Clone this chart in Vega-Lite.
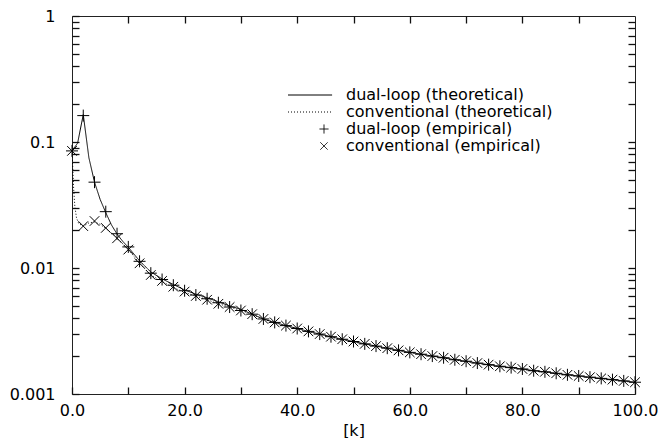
{
  "$schema": "https://vega.github.io/schema/vega-lite/v6.json",
  "width": 563,
  "height": 378,
  "autosize": {"type": "none"},
  "padding": {"left": 72, "top": 16, "right": 27, "bottom": 44},
  "background": "white",
  "config": {
    "font": "DejaVu Sans",
    "view": {"stroke": "#222222", "strokeWidth": 1},
    "axis": {
      "grid": false,
      "domain": false,
      "ticks": true,
      "tickColor": "#111111",
      "tickSize": 7,
      "offset": -7,
      "tickWidth": 1.3,
      "labelColor": "black",
      "labelFont": "DejaVu Sans",
      "labelFontSize": 16,
      "titleFont": "DejaVu Sans",
      "titleFontSize": 16,
      "titleFontWeight": "normal",
      "titleColor": "black",
      "labelOverlap": false,
      "labelFlush": false
    }
  },
  "datasets": {
    "theory": [
      {"k": 0, "v": 0.085, "s": "dual-loop (theoretical)"},
      {"k": 1, "v": 0.098, "s": "dual-loop (theoretical)"},
      {"k": 2, "v": 0.165, "s": "dual-loop (theoretical)"},
      {"k": 3, "v": 0.075, "s": "dual-loop (theoretical)"},
      {"k": 4, "v": 0.048, "s": "dual-loop (theoretical)"},
      {"k": 5, "v": 0.035, "s": "dual-loop (theoretical)"},
      {"k": 6, "v": 0.0275, "s": "dual-loop (theoretical)"},
      {"k": 7, "v": 0.022, "s": "dual-loop (theoretical)"},
      {"k": 8, "v": 0.0186, "s": "dual-loop (theoretical)"},
      {"k": 9, "v": 0.0163, "s": "dual-loop (theoretical)"},
      {"k": 10, "v": 0.0146, "s": "dual-loop (theoretical)"},
      {"k": 12, "v": 0.0114, "s": "dual-loop (theoretical)"},
      {"k": 14, "v": 0.0093, "s": "dual-loop (theoretical)"},
      {"k": 16, "v": 0.0082, "s": "dual-loop (theoretical)"},
      {"k": 18, "v": 0.0074, "s": "dual-loop (theoretical)"},
      {"k": 20, "v": 0.0067, "s": "dual-loop (theoretical)"},
      {"k": 22, "v": 0.0062, "s": "dual-loop (theoretical)"},
      {"k": 24, "v": 0.0058, "s": "dual-loop (theoretical)"},
      {"k": 26, "v": 0.0054, "s": "dual-loop (theoretical)"},
      {"k": 28, "v": 0.005, "s": "dual-loop (theoretical)"},
      {"k": 30, "v": 0.0047, "s": "dual-loop (theoretical)"},
      {"k": 32, "v": 0.0043, "s": "dual-loop (theoretical)"},
      {"k": 34, "v": 0.00394, "s": "dual-loop (theoretical)"},
      {"k": 36, "v": 0.0037, "s": "dual-loop (theoretical)"},
      {"k": 38, "v": 0.00349, "s": "dual-loop (theoretical)"},
      {"k": 40, "v": 0.00331, "s": "dual-loop (theoretical)"},
      {"k": 42, "v": 0.00314, "s": "dual-loop (theoretical)"},
      {"k": 44, "v": 0.00299, "s": "dual-loop (theoretical)"},
      {"k": 46, "v": 0.00285, "s": "dual-loop (theoretical)"},
      {"k": 48, "v": 0.00272, "s": "dual-loop (theoretical)"},
      {"k": 50, "v": 0.00261, "s": "dual-loop (theoretical)"},
      {"k": 52, "v": 0.0025, "s": "dual-loop (theoretical)"},
      {"k": 54, "v": 0.0024, "s": "dual-loop (theoretical)"},
      {"k": 56, "v": 0.00231, "s": "dual-loop (theoretical)"},
      {"k": 58, "v": 0.00222, "s": "dual-loop (theoretical)"},
      {"k": 60, "v": 0.00214, "s": "dual-loop (theoretical)"},
      {"k": 62, "v": 0.00207, "s": "dual-loop (theoretical)"},
      {"k": 64, "v": 0.002, "s": "dual-loop (theoretical)"},
      {"k": 66, "v": 0.00194, "s": "dual-loop (theoretical)"},
      {"k": 68, "v": 0.00187, "s": "dual-loop (theoretical)"},
      {"k": 70, "v": 0.00182, "s": "dual-loop (theoretical)"},
      {"k": 72, "v": 0.00176, "s": "dual-loop (theoretical)"},
      {"k": 74, "v": 0.00171, "s": "dual-loop (theoretical)"},
      {"k": 76, "v": 0.00166, "s": "dual-loop (theoretical)"},
      {"k": 78, "v": 0.00162, "s": "dual-loop (theoretical)"},
      {"k": 80, "v": 0.00158, "s": "dual-loop (theoretical)"},
      {"k": 82, "v": 0.00153, "s": "dual-loop (theoretical)"},
      {"k": 84, "v": 0.0015, "s": "dual-loop (theoretical)"},
      {"k": 86, "v": 0.00146, "s": "dual-loop (theoretical)"},
      {"k": 88, "v": 0.00142, "s": "dual-loop (theoretical)"},
      {"k": 90, "v": 0.00139, "s": "dual-loop (theoretical)"},
      {"k": 92, "v": 0.00136, "s": "dual-loop (theoretical)"},
      {"k": 94, "v": 0.00133, "s": "dual-loop (theoretical)"},
      {"k": 96, "v": 0.0013, "s": "dual-loop (theoretical)"},
      {"k": 98, "v": 0.00127, "s": "dual-loop (theoretical)"},
      {"k": 100, "v": 0.00124, "s": "dual-loop (theoretical)"},
      {"k": 0, "v": 0.085, "s": "conventional (theoretical)"},
      {"k": 0.15, "v": 0.06, "s": "conventional (theoretical)"},
      {"k": 0.3, "v": 0.042, "s": "conventional (theoretical)"},
      {"k": 0.5, "v": 0.031, "s": "conventional (theoretical)"},
      {"k": 0.8, "v": 0.025, "s": "conventional (theoretical)"},
      {"k": 1.2, "v": 0.0225, "s": "conventional (theoretical)"},
      {"k": 2, "v": 0.0215, "s": "conventional (theoretical)"},
      {"k": 3, "v": 0.0228, "s": "conventional (theoretical)"},
      {"k": 4, "v": 0.0232, "s": "conventional (theoretical)"},
      {"k": 5, "v": 0.0222, "s": "conventional (theoretical)"},
      {"k": 6, "v": 0.0206, "s": "conventional (theoretical)"},
      {"k": 7, "v": 0.0189, "s": "conventional (theoretical)"},
      {"k": 8, "v": 0.0172, "s": "conventional (theoretical)"},
      {"k": 9, "v": 0.0156, "s": "conventional (theoretical)"},
      {"k": 10, "v": 0.0141, "s": "conventional (theoretical)"},
      {"k": 12, "v": 0.0109, "s": "conventional (theoretical)"},
      {"k": 14, "v": 0.0088, "s": "conventional (theoretical)"},
      {"k": 16, "v": 0.0078, "s": "conventional (theoretical)"},
      {"k": 18, "v": 0.007, "s": "conventional (theoretical)"},
      {"k": 20, "v": 0.0064, "s": "conventional (theoretical)"},
      {"k": 22, "v": 0.006, "s": "conventional (theoretical)"},
      {"k": 24, "v": 0.0056, "s": "conventional (theoretical)"},
      {"k": 26, "v": 0.0052, "s": "conventional (theoretical)"},
      {"k": 28, "v": 0.0049, "s": "conventional (theoretical)"},
      {"k": 30, "v": 0.0046, "s": "conventional (theoretical)"},
      {"k": 32, "v": 0.0043, "s": "conventional (theoretical)"},
      {"k": 34, "v": 0.00392, "s": "conventional (theoretical)"},
      {"k": 36, "v": 0.00368, "s": "conventional (theoretical)"},
      {"k": 38, "v": 0.00347, "s": "conventional (theoretical)"},
      {"k": 40, "v": 0.00329, "s": "conventional (theoretical)"},
      {"k": 42, "v": 0.00312, "s": "conventional (theoretical)"},
      {"k": 44, "v": 0.00297, "s": "conventional (theoretical)"},
      {"k": 46, "v": 0.00283, "s": "conventional (theoretical)"},
      {"k": 48, "v": 0.0027, "s": "conventional (theoretical)"},
      {"k": 50, "v": 0.00259, "s": "conventional (theoretical)"},
      {"k": 52, "v": 0.00248, "s": "conventional (theoretical)"},
      {"k": 54, "v": 0.00239, "s": "conventional (theoretical)"},
      {"k": 56, "v": 0.0023, "s": "conventional (theoretical)"},
      {"k": 58, "v": 0.00221, "s": "conventional (theoretical)"},
      {"k": 60, "v": 0.00213, "s": "conventional (theoretical)"},
      {"k": 62, "v": 0.00206, "s": "conventional (theoretical)"},
      {"k": 64, "v": 0.00199, "s": "conventional (theoretical)"},
      {"k": 66, "v": 0.00193, "s": "conventional (theoretical)"},
      {"k": 68, "v": 0.00186, "s": "conventional (theoretical)"},
      {"k": 70, "v": 0.00181, "s": "conventional (theoretical)"},
      {"k": 72, "v": 0.00175, "s": "conventional (theoretical)"},
      {"k": 74, "v": 0.0017, "s": "conventional (theoretical)"},
      {"k": 76, "v": 0.00165, "s": "conventional (theoretical)"},
      {"k": 78, "v": 0.00161, "s": "conventional (theoretical)"},
      {"k": 80, "v": 0.00157, "s": "conventional (theoretical)"},
      {"k": 82, "v": 0.00152, "s": "conventional (theoretical)"},
      {"k": 84, "v": 0.00149, "s": "conventional (theoretical)"},
      {"k": 86, "v": 0.00145, "s": "conventional (theoretical)"},
      {"k": 88, "v": 0.00141, "s": "conventional (theoretical)"},
      {"k": 90, "v": 0.00138, "s": "conventional (theoretical)"},
      {"k": 92, "v": 0.00135, "s": "conventional (theoretical)"},
      {"k": 94, "v": 0.00132, "s": "conventional (theoretical)"},
      {"k": 96, "v": 0.00129, "s": "conventional (theoretical)"},
      {"k": 98, "v": 0.00126, "s": "conventional (theoretical)"},
      {"k": 100, "v": 0.00123, "s": "conventional (theoretical)"}
    ],
    "emp": [
      {"k": 0, "v": 0.085, "s": "dual-loop (empirical)"},
      {"k": 2, "v": 0.162, "s": "dual-loop (empirical)"},
      {"k": 4, "v": 0.048, "s": "dual-loop (empirical)"},
      {"k": 6, "v": 0.028, "s": "dual-loop (empirical)"},
      {"k": 8, "v": 0.0187, "s": "dual-loop (empirical)"},
      {"k": 10, "v": 0.0147, "s": "dual-loop (empirical)"},
      {"k": 12, "v": 0.0113, "s": "dual-loop (empirical)"},
      {"k": 14, "v": 0.0091, "s": "dual-loop (empirical)"},
      {"k": 16, "v": 0.0081, "s": "dual-loop (empirical)"},
      {"k": 18, "v": 0.0073, "s": "dual-loop (empirical)"},
      {"k": 20, "v": 0.0066, "s": "dual-loop (empirical)"},
      {"k": 22, "v": 0.0061, "s": "dual-loop (empirical)"},
      {"k": 24, "v": 0.0057, "s": "dual-loop (empirical)"},
      {"k": 26, "v": 0.0053, "s": "dual-loop (empirical)"},
      {"k": 28, "v": 0.0049, "s": "dual-loop (empirical)"},
      {"k": 30, "v": 0.0046, "s": "dual-loop (empirical)"},
      {"k": 32, "v": 0.0043, "s": "dual-loop (empirical)"},
      {"k": 34, "v": 0.00394, "s": "dual-loop (empirical)"},
      {"k": 36, "v": 0.0037, "s": "dual-loop (empirical)"},
      {"k": 38, "v": 0.00349, "s": "dual-loop (empirical)"},
      {"k": 40, "v": 0.00331, "s": "dual-loop (empirical)"},
      {"k": 42, "v": 0.00314, "s": "dual-loop (empirical)"},
      {"k": 44, "v": 0.00299, "s": "dual-loop (empirical)"},
      {"k": 46, "v": 0.00285, "s": "dual-loop (empirical)"},
      {"k": 48, "v": 0.00272, "s": "dual-loop (empirical)"},
      {"k": 50, "v": 0.00261, "s": "dual-loop (empirical)"},
      {"k": 52, "v": 0.0025, "s": "dual-loop (empirical)"},
      {"k": 54, "v": 0.0024, "s": "dual-loop (empirical)"},
      {"k": 56, "v": 0.00231, "s": "dual-loop (empirical)"},
      {"k": 58, "v": 0.00222, "s": "dual-loop (empirical)"},
      {"k": 60, "v": 0.00214, "s": "dual-loop (empirical)"},
      {"k": 62, "v": 0.00207, "s": "dual-loop (empirical)"},
      {"k": 64, "v": 0.002, "s": "dual-loop (empirical)"},
      {"k": 66, "v": 0.00194, "s": "dual-loop (empirical)"},
      {"k": 68, "v": 0.00187, "s": "dual-loop (empirical)"},
      {"k": 70, "v": 0.00182, "s": "dual-loop (empirical)"},
      {"k": 72, "v": 0.00176, "s": "dual-loop (empirical)"},
      {"k": 74, "v": 0.00171, "s": "dual-loop (empirical)"},
      {"k": 76, "v": 0.00166, "s": "dual-loop (empirical)"},
      {"k": 78, "v": 0.00162, "s": "dual-loop (empirical)"},
      {"k": 80, "v": 0.00158, "s": "dual-loop (empirical)"},
      {"k": 82, "v": 0.00153, "s": "dual-loop (empirical)"},
      {"k": 84, "v": 0.0015, "s": "dual-loop (empirical)"},
      {"k": 86, "v": 0.00146, "s": "dual-loop (empirical)"},
      {"k": 88, "v": 0.00142, "s": "dual-loop (empirical)"},
      {"k": 90, "v": 0.00139, "s": "dual-loop (empirical)"},
      {"k": 92, "v": 0.00136, "s": "dual-loop (empirical)"},
      {"k": 94, "v": 0.00133, "s": "dual-loop (empirical)"},
      {"k": 96, "v": 0.0013, "s": "dual-loop (empirical)"},
      {"k": 98, "v": 0.00127, "s": "dual-loop (empirical)"},
      {"k": 100, "v": 0.00124, "s": "dual-loop (empirical)"},
      {"k": 0, "v": 0.085, "s": "conventional (empirical)"},
      {"k": 2, "v": 0.0215, "s": "conventional (empirical)"},
      {"k": 4, "v": 0.0236, "s": "conventional (empirical)"},
      {"k": 6, "v": 0.0208, "s": "conventional (empirical)"},
      {"k": 8, "v": 0.0172, "s": "conventional (empirical)"},
      {"k": 10, "v": 0.014, "s": "conventional (empirical)"},
      {"k": 12, "v": 0.0109, "s": "conventional (empirical)"},
      {"k": 14, "v": 0.0088, "s": "conventional (empirical)"},
      {"k": 16, "v": 0.0079, "s": "conventional (empirical)"},
      {"k": 18, "v": 0.0071, "s": "conventional (empirical)"},
      {"k": 20, "v": 0.0065, "s": "conventional (empirical)"},
      {"k": 22, "v": 0.006, "s": "conventional (empirical)"},
      {"k": 24, "v": 0.0056, "s": "conventional (empirical)"},
      {"k": 26, "v": 0.0052, "s": "conventional (empirical)"},
      {"k": 28, "v": 0.0049, "s": "conventional (empirical)"},
      {"k": 30, "v": 0.0046, "s": "conventional (empirical)"},
      {"k": 32, "v": 0.0043, "s": "conventional (empirical)"},
      {"k": 34, "v": 0.00394, "s": "conventional (empirical)"},
      {"k": 36, "v": 0.0037, "s": "conventional (empirical)"},
      {"k": 38, "v": 0.00349, "s": "conventional (empirical)"},
      {"k": 40, "v": 0.00331, "s": "conventional (empirical)"},
      {"k": 42, "v": 0.00314, "s": "conventional (empirical)"},
      {"k": 44, "v": 0.00299, "s": "conventional (empirical)"},
      {"k": 46, "v": 0.00285, "s": "conventional (empirical)"},
      {"k": 48, "v": 0.00272, "s": "conventional (empirical)"},
      {"k": 50, "v": 0.00261, "s": "conventional (empirical)"},
      {"k": 52, "v": 0.0025, "s": "conventional (empirical)"},
      {"k": 54, "v": 0.0024, "s": "conventional (empirical)"},
      {"k": 56, "v": 0.00231, "s": "conventional (empirical)"},
      {"k": 58, "v": 0.00222, "s": "conventional (empirical)"},
      {"k": 60, "v": 0.00214, "s": "conventional (empirical)"},
      {"k": 62, "v": 0.00207, "s": "conventional (empirical)"},
      {"k": 64, "v": 0.002, "s": "conventional (empirical)"},
      {"k": 66, "v": 0.00194, "s": "conventional (empirical)"},
      {"k": 68, "v": 0.00187, "s": "conventional (empirical)"},
      {"k": 70, "v": 0.00182, "s": "conventional (empirical)"},
      {"k": 72, "v": 0.00176, "s": "conventional (empirical)"},
      {"k": 74, "v": 0.00171, "s": "conventional (empirical)"},
      {"k": 76, "v": 0.00166, "s": "conventional (empirical)"},
      {"k": 78, "v": 0.00162, "s": "conventional (empirical)"},
      {"k": 80, "v": 0.00158, "s": "conventional (empirical)"},
      {"k": 82, "v": 0.00153, "s": "conventional (empirical)"},
      {"k": 84, "v": 0.0015, "s": "conventional (empirical)"},
      {"k": 86, "v": 0.00146, "s": "conventional (empirical)"},
      {"k": 88, "v": 0.00142, "s": "conventional (empirical)"},
      {"k": 90, "v": 0.00139, "s": "conventional (empirical)"},
      {"k": 92, "v": 0.00136, "s": "conventional (empirical)"},
      {"k": 94, "v": 0.00133, "s": "conventional (empirical)"},
      {"k": 96, "v": 0.0013, "s": "conventional (empirical)"},
      {"k": 98, "v": 0.00127, "s": "conventional (empirical)"},
      {"k": 100, "v": 0.00124, "s": "conventional (empirical)"}
    ]
  },
  "layer": [
    {
      "data": {"name": "theory"},
      "mark": {"type": "line", "color": "black", "strokeWidth": 1, "clip": true},
      "encoding": {
        "x": {"field": "k", "type": "quantitative", "scale": {"domain": [0, 100], "nice": false, "zero": false},
          "axis": {"orient": "bottom", "values": [0, 10, 20, 30, 40, 50, 60, 70, 80, 90, 100], "format": ".1f",
            "labelExpr": "datum.value % 20 == 0 ? datum.label : ''", "labelPadding": 8, "title": "[k]", "titlePadding": 4}},
        "y": {"field": "v", "type": "quantitative", "scale": {"type": "log", "domain": [0.001, 1], "nice": false},
          "axis": {"orient": "left", "values": [0.001, 0.002, 0.003, 0.004, 0.005, 0.006, 0.007, 0.008, 0.009, 0.01, 0.02, 0.03, 0.04, 0.05, 0.06, 0.07, 0.08, 0.09, 0.1, 0.2, 0.3, 0.4, 0.5, 0.6, 0.7, 0.8, 0.9, 1],
            "format": "~g", "labelExpr": "(datum.value == 1 || datum.value == 0.1 || datum.value == 0.01 || datum.value == 0.001) ? datum.label : ''",
            "labelPadding": 17, "title": null}},
        "strokeDash": {"field": "s", "type": "nominal",
          "scale": {"domain": ["dual-loop (theoretical)", "conventional (theoretical)", "dual-loop (empirical)", "conventional (empirical)"],
            "range": [[1, 0], [1, 2], [1, 0], [1, 0]]},
          "legend": {"title": null, "orient": "none", "legendX": 244, "legendY": 71, "symbolSize": 81, "labelFontSize": 16, "labelFont": "DejaVu Sans", "labelColor": "black", "labelOffset": 14, "labelLimit": 400, "rowPadding": 1, "padding": 0, "symbolStrokeColor": "black", "symbolStrokeWidth": 1, "symbolFillColor": "transparent", "symbolOpacity": 1}}
      }
    },
    {
      "data": {"name": "emp"},
      "mark": {"type": "point", "filled": false, "color": "black", "strokeWidth": 1, "size": 144, "opacity": 1},
      "encoding": {
        "x": {"field": "k", "type": "quantitative", "axis": null},
        "y": {"field": "v", "type": "quantitative", "axis": null},
        "shape": {"field": "s", "type": "nominal",
          "scale": {"domain": ["dual-loop (theoretical)", "conventional (theoretical)", "dual-loop (empirical)", "conventional (empirical)"],
            "range": ["M-8,0H1.8", "M-8,0H1.8", "M-1,0H1M0,-1V1", "M-0.8,-0.8L0.8,0.8M-0.8,0.8L0.8,-0.8"]},
          "legend": {"title": null, "orient": "none", "legendX": 244, "legendY": 71, "symbolSize": 81, "labelFontSize": 16, "labelFont": "DejaVu Sans", "labelColor": "black", "labelOffset": 14, "labelLimit": 400, "rowPadding": 1, "padding": 0, "symbolStrokeColor": "black", "symbolStrokeWidth": 1, "symbolFillColor": "transparent", "symbolOpacity": 1}}
      }
    },
    {
      "data": {"name": "emp"},
      "mark": {"type": "point", "opacity": 0},
      "encoding": {
        "x": {"field": "k", "type": "quantitative",
          "axis": {"orient": "top", "values": [10, 20, 30, 40, 50, 60, 70, 80, 90], "labels": false, "title": null}},
        "y": {"field": "v", "type": "quantitative",
          "axis": {"orient": "right", "values": [0.002, 0.003, 0.004, 0.005, 0.006, 0.007, 0.008, 0.009, 0.01, 0.02, 0.03, 0.04, 0.05, 0.06, 0.07, 0.08, 0.09, 0.1, 0.2, 0.3, 0.4, 0.5, 0.6, 0.7, 0.8, 0.9], "labels": false, "title": null}}
      }
    }
  ],
  "resolve": {"axis": {"x": "independent", "y": "independent"}}
}
